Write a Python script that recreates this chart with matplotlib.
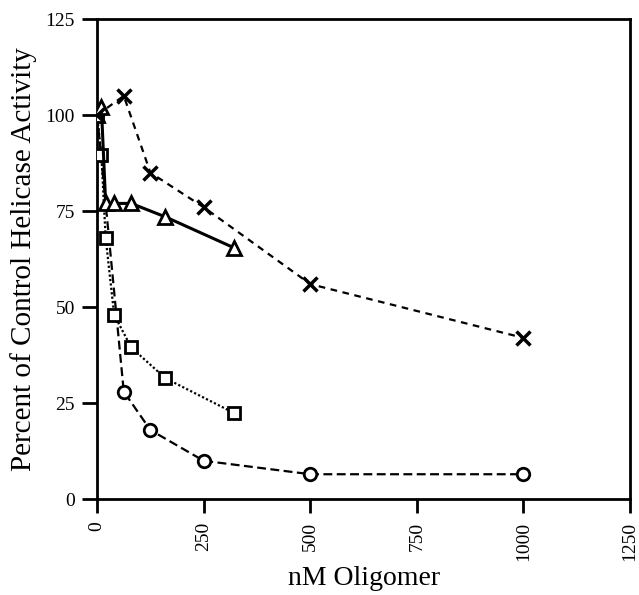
import matplotlib
matplotlib.use("Agg")
import matplotlib.pyplot as plt

# nM oligomer concentrations and percent of control helicase activity
x_cross = [0, 62.5, 125, 250, 500, 1000]
y_cross = [100, 105, 85, 76, 56, 42]

x_tri = [0, 10, 20, 40, 80, 160, 320]
y_tri = [100, 102, 77, 77, 77, 73.5, 65.5]

x_sq = [0, 10, 20, 40, 80, 160, 320]
y_sq = [100, 89.5, 68, 48, 39.5, 31.5, 22.5]

x_circ = [0, 62.5, 125, 250, 500, 1000]
y_circ = [100, 28, 18, 10, 6.5, 6.5]

xticks = [0, 250, 500, 750, 1000, 1250]
yticks = [0, 25, 50, 75, 100, 125]

plt.rcParams['font.family'] = ['Liberation Serif', 'DejaVu Serif']

fig = plt.figure(figsize=(6.39, 5.95), dpi=100)
ax = fig.add_axes([0.152, 0.161, 0.834, 0.807])

mk = dict(markerfacecolor='white', markeredgecolor='black', markeredgewidth=2, color='black')

ax.plot(x_circ, y_circ, linestyle=(0, (4, 2)), linewidth=1.6, marker='o', markersize=9, zorder=2, **mk)
ax.plot(x_sq, y_sq, linestyle=(0, (1, 1)), linewidth=1.6, marker='s', markersize=9, zorder=3, **mk)
ax.plot(x_tri, y_tri, linestyle='-', linewidth=2.2, marker='^', markersize=10, zorder=4, **mk)
ax.plot(x_cross, y_cross, linestyle=(0, (3, 2.5)), linewidth=1.6, marker='x', markersize=10,
        color='black', markeredgewidth=2.5, zorder=5)

ax.set_xlim(0, 1250)
ax.set_ylim(0, 125)
ax.set_xticks(xticks)
ax.set_yticks(yticks)
ax.set_xticklabels([str(t) for t in xticks], rotation=90, fontsize=14)
ax.set_yticklabels([str(t) for t in yticks], fontsize=14)
ax.tick_params(axis='y', direction='out', length=11, width=2, pad=5)
ax.tick_params(axis='x', direction='out', length=10, width=2, pad=6)

for s in ax.spines.values():
    s.set_linewidth(2)

ax.set_xlabel('nM Oligomer', fontsize=20, labelpad=4)
ax.set_ylabel('Percent of Control Helicase Activity', fontsize=21, labelpad=6)

fig.savefig('out.png', dpi=100)
